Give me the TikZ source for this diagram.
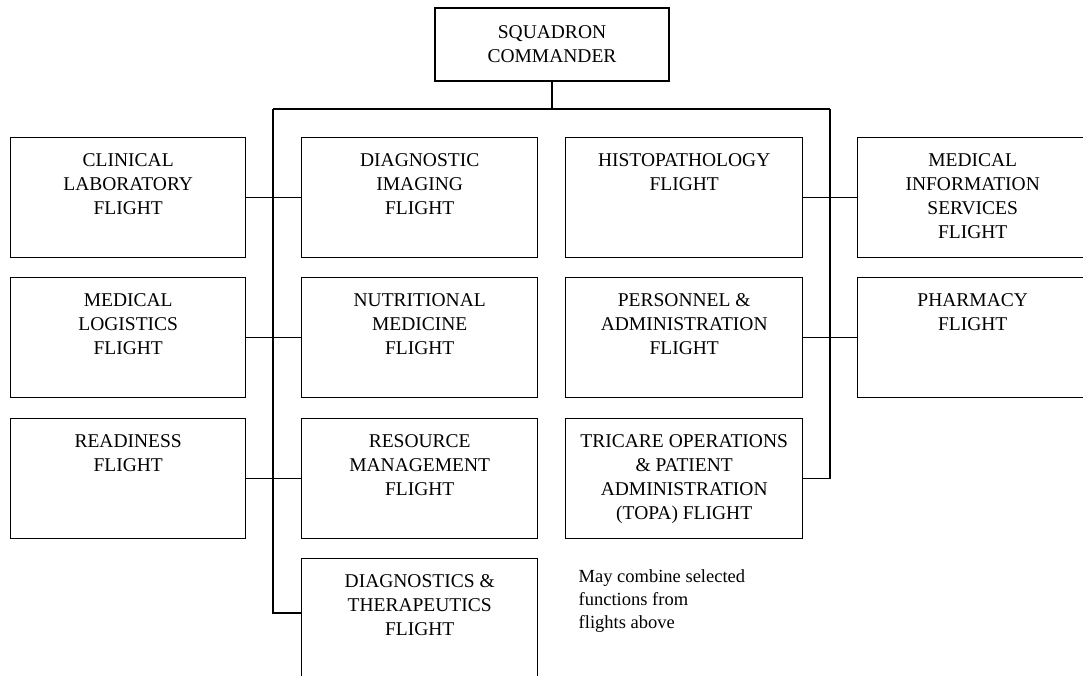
\documentclass[tikz,border=0pt]{standalone}
\usepackage{fontspec}
\setmainfont{Liberation Serif}
\usetikzlibrary{positioning}

\newcommand{\unitfont}{\fontsize{19.5}{24}\selectfont}
\newcommand{\notefont}{\fontsize{18.5}{23}\selectfont}
% box text sits at the top of each flight box
\newcommand{\flt}[2]{\parbox[t][120pt][t]{#1pt}{\centering\vspace{16pt}#2}}

\begin{document}
\begin{tikzpicture}[x=1pt,y=-1pt,line width=1.4pt,
    unit/.style={draw,inner sep=0pt,anchor=north west,font=\unitfont}]
  \path[use as bounding box,clip] (0,0) rectangle (1083,675);

  \node[draw,minimum width=234pt,minimum height=73pt,align=center,font=\unitfont]
    (cmd) at (552,44.5) {SQUADRON\\COMMANDER};

  % first column
  \node[unit] (clinlab) at (10,137) {\flt{235}{CLINICAL\\LABORATORY\\FLIGHT}};
  \node[unit] (medlog) at (10,277) {\flt{235}{MEDICAL\\LOGISTICS\\FLIGHT}};
  \node[unit] (ready) at (10,418) {\flt{235}{READINESS\\FLIGHT}};

  % second column
  \node[unit] (diagimg) at (301,137) {\flt{236}{DIAGNOSTIC\\IMAGING\\FLIGHT}};
  \node[unit] (nutmed) at (301,277) {\flt{236}{NUTRITIONAL\\MEDICINE\\FLIGHT}};
  \node[unit] (resmgt) at (301,418) {\flt{236}{RESOURCE\\MANAGEMENT\\FLIGHT}};
  \node[unit] (diagther) at (301,558) {\flt{236}{DIAGNOSTICS \&\\THERAPEUTICS\\FLIGHT}};

  % third column
  \node[unit] (histo) at (565,137) {\flt{237}{HISTOPATHOLOGY\\FLIGHT}};
  \node[unit] (persadm) at (565,277) {\flt{237}{PERSONNEL \&\\ADMINISTRATION\\FLIGHT}};
  \node[unit] (topa) at (565,418) {\flt{237}{TRICARE OPERATIONS\\\& PATIENT\\ADMINISTRATION\\(TOPA) FLIGHT}};

  % fourth column
  \node[unit] (medinfo) at (857,137) {\flt{230}{MEDICAL\\INFORMATION\\SERVICES\\FLIGHT}};
  \node[unit] (pharm) at (857,277) {\flt{230}{PHARMACY\\FLIGHT}};

  \node[anchor=north west,inner sep=0pt,align=left,font=\notefont]
    (note) at (578,569) {May combine selected\\functions from\\flights above};

  % connectors
  \coordinate (lbus) at (273,109);
  \coordinate (rbus) at (830,109);
  \draw (cmd.south) -- (cmd.south |- lbus);
  \draw (lbus) -- (rbus);
  \draw (lbus) |- ([yshift=-55pt]diagther.north west);
  \draw (rbus) |- (topa.east);
  \draw (clinlab.east) -- (diagimg.west);
  \draw (medlog.east) -- (nutmed.west);
  \draw (ready.east) -- (resmgt.west);
  \draw (histo.east) -- (medinfo.west);
  \draw (persadm.east) -- (pharm.west);
\end{tikzpicture}
\end{document}
